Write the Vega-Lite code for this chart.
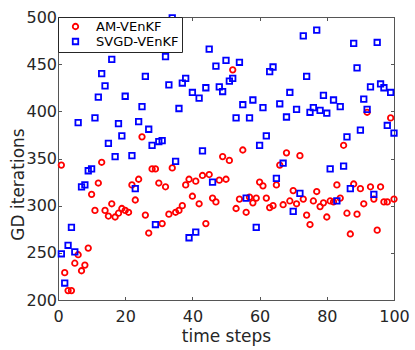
{
  "$schema": "https://vega.github.io/schema/vega-lite/v6.json",
  "autosize": {"type": "none"},
  "padding": {"left": 58, "top": 17, "right": 21, "bottom": 50},
  "width": 336,
  "height": 283,
  "background": "white",
  "config": {
    "view": {"stroke": "#555555", "strokeWidth": 1},
    "font": "DejaVu Sans",
    "axis": {"grid": false, "domainColor": "#555555", "tickColor": "#555555", "labelColor": "#262626", "titleColor": "#262626", "labelFont": "DejaVu Sans", "titleFont": "DejaVu Sans", "labelFontSize": 16, "titleFontSize": 17, "titleFontWeight": "normal", "tickSize": -3.5, "domainWidth": 1, "labelFlush": false}
  },
  "datasets": {
    "pts": [
      {"t":1,"v":343,"s":"AM-VEnKF"},{"t":2,"v":229,"s":"AM-VEnKF"},{"t":3,"v":210,"s":"AM-VEnKF"},{"t":4,"v":210,"s":"AM-VEnKF"},{"t":5,"v":239,"s":"AM-VEnKF"},{"t":6,"v":248,"s":"AM-VEnKF"},{"t":7,"v":231,"s":"AM-VEnKF"},{"t":8,"v":237,"s":"AM-VEnKF"},{"t":9,"v":255,"s":"AM-VEnKF"},{"t":10,"v":312,"s":"AM-VEnKF"},
      {"t":11,"v":295,"s":"AM-VEnKF"},{"t":12,"v":324,"s":"AM-VEnKF"},{"t":13,"v":346,"s":"AM-VEnKF"},{"t":14,"v":295,"s":"AM-VEnKF"},{"t":15,"v":289,"s":"AM-VEnKF"},{"t":16,"v":302,"s":"AM-VEnKF"},{"t":17,"v":288,"s":"AM-VEnKF"},{"t":18,"v":292,"s":"AM-VEnKF"},{"t":19,"v":297,"s":"AM-VEnKF"},{"t":20,"v":295,"s":"AM-VEnKF"},
      {"t":21,"v":293,"s":"AM-VEnKF"},{"t":22,"v":322,"s":"AM-VEnKF"},{"t":23,"v":306,"s":"AM-VEnKF"},{"t":24,"v":328,"s":"AM-VEnKF"},{"t":25,"v":373,"s":"AM-VEnKF"},{"t":26,"v":290,"s":"AM-VEnKF"},{"t":27,"v":271,"s":"AM-VEnKF"},{"t":28,"v":339,"s":"AM-VEnKF"},{"t":29,"v":339,"s":"AM-VEnKF"},{"t":30,"v":324,"s":"AM-VEnKF"},
      {"t":31,"v":281,"s":"AM-VEnKF"},{"t":32,"v":320,"s":"AM-VEnKF"},{"t":33,"v":291,"s":"AM-VEnKF"},{"t":34,"v":340,"s":"AM-VEnKF"},{"t":35,"v":293,"s":"AM-VEnKF"},{"t":36,"v":295,"s":"AM-VEnKF"},{"t":37,"v":300,"s":"AM-VEnKF"},{"t":38,"v":322,"s":"AM-VEnKF"},{"t":39,"v":328,"s":"AM-VEnKF"},{"t":40,"v":310,"s":"AM-VEnKF"},
      {"t":41,"v":326,"s":"AM-VEnKF"},{"t":42,"v":302,"s":"AM-VEnKF"},{"t":43,"v":332,"s":"AM-VEnKF"},{"t":44,"v":281,"s":"AM-VEnKF"},{"t":45,"v":333,"s":"AM-VEnKF"},{"t":46,"v":308,"s":"AM-VEnKF"},{"t":47,"v":304,"s":"AM-VEnKF"},{"t":48,"v":327,"s":"AM-VEnKF"},{"t":49,"v":352,"s":"AM-VEnKF"},{"t":50,"v":328,"s":"AM-VEnKF"},
      {"t":51,"v":348,"s":"AM-VEnKF"},{"t":52,"v":444,"s":"AM-VEnKF"},{"t":53,"v":297,"s":"AM-VEnKF"},{"t":54,"v":307,"s":"AM-VEnKF"},{"t":55,"v":359,"s":"AM-VEnKF"},{"t":56,"v":293,"s":"AM-VEnKF"},{"t":57,"v":309,"s":"AM-VEnKF"},{"t":58,"v":303,"s":"AM-VEnKF"},{"t":59,"v":308,"s":"AM-VEnKF"},{"t":60,"v":325,"s":"AM-VEnKF"},
      {"t":61,"v":321,"s":"AM-VEnKF"},{"t":62,"v":308,"s":"AM-VEnKF"},{"t":63,"v":298,"s":"AM-VEnKF"},{"t":64,"v":300,"s":"AM-VEnKF"},{"t":65,"v":322,"s":"AM-VEnKF"},{"t":66,"v":343,"s":"AM-VEnKF"},{"t":67,"v":301,"s":"AM-VEnKF"},{"t":68,"v":356,"s":"AM-VEnKF"},{"t":69,"v":305,"s":"AM-VEnKF"},{"t":70,"v":316,"s":"AM-VEnKF"},
      {"t":71,"v":302,"s":"AM-VEnKF"},{"t":72,"v":353,"s":"AM-VEnKF"},{"t":73,"v":307,"s":"AM-VEnKF"},{"t":74,"v":290,"s":"AM-VEnKF"},{"t":75,"v":280,"s":"AM-VEnKF"},{"t":76,"v":305,"s":"AM-VEnKF"},{"t":77,"v":315,"s":"AM-VEnKF"},{"t":78,"v":299,"s":"AM-VEnKF"},{"t":79,"v":303,"s":"AM-VEnKF"},{"t":80,"v":288,"s":"AM-VEnKF"},
      {"t":81,"v":305,"s":"AM-VEnKF"},{"t":82,"v":304,"s":"AM-VEnKF"},{"t":83,"v":322,"s":"AM-VEnKF"},{"t":84,"v":308,"s":"AM-VEnKF"},{"t":85,"v":364,"s":"AM-VEnKF"},{"t":86,"v":292,"s":"AM-VEnKF"},{"t":87,"v":270,"s":"AM-VEnKF"},{"t":88,"v":323,"s":"AM-VEnKF"},{"t":89,"v":291,"s":"AM-VEnKF"},{"t":90,"v":318,"s":"AM-VEnKF"},
      {"t":91,"v":302,"s":"AM-VEnKF"},{"t":92,"v":399,"s":"AM-VEnKF"},{"t":93,"v":320,"s":"AM-VEnKF"},{"t":94,"v":307,"s":"AM-VEnKF"},{"t":95,"v":274,"s":"AM-VEnKF"},{"t":96,"v":320,"s":"AM-VEnKF"},{"t":97,"v":304,"s":"AM-VEnKF"},{"t":98,"v":304,"s":"AM-VEnKF"},{"t":99,"v":393,"s":"AM-VEnKF"},{"t":100,"v":307,"s":"AM-VEnKF"},
      {"t":1,"v":249,"s":"SVGD-VEnKF"},{"t":2,"v":218,"s":"SVGD-VEnKF"},{"t":3,"v":258,"s":"SVGD-VEnKF"},{"t":4,"v":277,"s":"SVGD-VEnKF"},{"t":5,"v":251,"s":"SVGD-VEnKF"},{"t":6,"v":388,"s":"SVGD-VEnKF"},{"t":7,"v":320,"s":"SVGD-VEnKF"},{"t":8,"v":322,"s":"SVGD-VEnKF"},{"t":9,"v":337,"s":"SVGD-VEnKF"},{"t":10,"v":339,"s":"SVGD-VEnKF"},
      {"t":11,"v":393,"s":"SVGD-VEnKF"},{"t":12,"v":415,"s":"SVGD-VEnKF"},{"t":13,"v":440,"s":"SVGD-VEnKF"},{"t":14,"v":427,"s":"SVGD-VEnKF"},{"t":15,"v":366,"s":"SVGD-VEnKF"},{"t":16,"v":455,"s":"SVGD-VEnKF"},{"t":17,"v":352,"s":"SVGD-VEnKF"},{"t":18,"v":387,"s":"SVGD-VEnKF"},{"t":19,"v":374,"s":"SVGD-VEnKF"},{"t":20,"v":416,"s":"SVGD-VEnKF"},
      {"t":21,"v":466,"s":"SVGD-VEnKF"},{"t":22,"v":353,"s":"SVGD-VEnKF"},{"t":23,"v":318,"s":"SVGD-VEnKF"},{"t":24,"v":389,"s":"SVGD-VEnKF"},{"t":25,"v":405,"s":"SVGD-VEnKF"},{"t":26,"v":437,"s":"SVGD-VEnKF"},{"t":27,"v":381,"s":"SVGD-VEnKF"},{"t":28,"v":364,"s":"SVGD-VEnKF"},{"t":29,"v":280,"s":"SVGD-VEnKF"},{"t":30,"v":368,"s":"SVGD-VEnKF"},
      {"t":31,"v":369,"s":"SVGD-VEnKF"},{"t":32,"v":458,"s":"SVGD-VEnKF"},{"t":33,"v":428,"s":"SVGD-VEnKF"},{"t":34,"v":499,"s":"SVGD-VEnKF"},{"t":35,"v":347,"s":"SVGD-VEnKF"},{"t":36,"v":403,"s":"SVGD-VEnKF"},{"t":37,"v":430,"s":"SVGD-VEnKF"},{"t":38,"v":435,"s":"SVGD-VEnKF"},{"t":39,"v":266,"s":"SVGD-VEnKF"},{"t":40,"v":420,"s":"SVGD-VEnKF"},
      {"t":41,"v":272,"s":"SVGD-VEnKF"},{"t":42,"v":414,"s":"SVGD-VEnKF"},{"t":43,"v":358,"s":"SVGD-VEnKF"},{"t":44,"v":425,"s":"SVGD-VEnKF"},{"t":45,"v":466,"s":"SVGD-VEnKF"},{"t":46,"v":325,"s":"SVGD-VEnKF"},{"t":47,"v":448,"s":"SVGD-VEnKF"},{"t":48,"v":426,"s":"SVGD-VEnKF"},{"t":49,"v":421,"s":"SVGD-VEnKF"},{"t":50,"v":454,"s":"SVGD-VEnKF"},
      {"t":51,"v":432,"s":"SVGD-VEnKF"},{"t":52,"v":435,"s":"SVGD-VEnKF"},{"t":53,"v":393,"s":"SVGD-VEnKF"},{"t":54,"v":452,"s":"SVGD-VEnKF"},{"t":55,"v":407,"s":"SVGD-VEnKF"},{"t":56,"v":308,"s":"SVGD-VEnKF"},{"t":57,"v":393,"s":"SVGD-VEnKF"},{"t":58,"v":412,"s":"SVGD-VEnKF"},{"t":59,"v":277,"s":"SVGD-VEnKF"},{"t":60,"v":364,"s":"SVGD-VEnKF"},
      {"t":61,"v":404,"s":"SVGD-VEnKF"},{"t":62,"v":374,"s":"SVGD-VEnKF"},{"t":63,"v":442,"s":"SVGD-VEnKF"},{"t":64,"v":447,"s":"SVGD-VEnKF"},{"t":65,"v":329,"s":"SVGD-VEnKF"},{"t":66,"v":408,"s":"SVGD-VEnKF"},{"t":67,"v":345,"s":"SVGD-VEnKF"},{"t":68,"v":394,"s":"SVGD-VEnKF"},{"t":69,"v":420,"s":"SVGD-VEnKF"},{"t":70,"v":294,"s":"SVGD-VEnKF"},
      {"t":71,"v":402,"s":"SVGD-VEnKF"},{"t":72,"v":313,"s":"SVGD-VEnKF"},{"t":73,"v":480,"s":"SVGD-VEnKF"},{"t":74,"v":437,"s":"SVGD-VEnKF"},{"t":75,"v":399,"s":"SVGD-VEnKF"},{"t":76,"v":404,"s":"SVGD-VEnKF"},{"t":77,"v":486,"s":"SVGD-VEnKF"},{"t":78,"v":401,"s":"SVGD-VEnKF"},{"t":79,"v":417,"s":"SVGD-VEnKF"},{"t":80,"v":398,"s":"SVGD-VEnKF"},
      {"t":81,"v":339,"s":"SVGD-VEnKF"},{"t":82,"v":412,"s":"SVGD-VEnKF"},{"t":83,"v":305,"s":"SVGD-VEnKF"},{"t":84,"v":405,"s":"SVGD-VEnKF"},{"t":85,"v":342,"s":"SVGD-VEnKF"},{"t":86,"v":373,"s":"SVGD-VEnKF"},{"t":87,"v":318,"s":"SVGD-VEnKF"},{"t":88,"v":472,"s":"SVGD-VEnKF"},{"t":89,"v":446,"s":"SVGD-VEnKF"},{"t":90,"v":380,"s":"SVGD-VEnKF"},
      {"t":91,"v":413,"s":"SVGD-VEnKF"},{"t":92,"v":402,"s":"SVGD-VEnKF"},{"t":93,"v":426,"s":"SVGD-VEnKF"},{"t":94,"v":312,"s":"SVGD-VEnKF"},{"t":95,"v":473,"s":"SVGD-VEnKF"},{"t":96,"v":429,"s":"SVGD-VEnKF"},{"t":97,"v":425,"s":"SVGD-VEnKF"},{"t":98,"v":385,"s":"SVGD-VEnKF"},{"t":99,"v":420,"s":"SVGD-VEnKF"},{"t":100,"v":377,"s":"SVGD-VEnKF"}
    ]
  },
  "data": {"name": "pts"},
  "layer": [
    {
      "mark": {"type": "point", "filled": false, "strokeWidth": 1.8, "opacity": 1},
      "encoding": {
        "x": {"field": "t", "type": "quantitative", "scale": {"domain": [0, 100], "nice": false, "zero": false},
          "axis": {"orient": "bottom", "values": [0, 20, 40, 60, 80, 100], "title": "time steps", "labelPadding": 12, "titleBaseline": "alphabetic", "titleY": 41}},
        "y": {"field": "v", "type": "quantitative", "scale": {"domain": [200, 500], "nice": false, "zero": false},
          "axis": {"orient": "left", "values": [200, 250, 300, 350, 400, 450, 500], "title": "GD iterations", "labelPadding": 5, "titleAngle": 270, "titleBaseline": "alphabetic", "titleAlign": "center", "titleX": -35, "titleY": 167}},
        "color": {"field": "s", "type": "nominal", "scale": {"domain": ["AM-VEnKF", "SVGD-VEnKF"], "range": ["#ff0000", "#0000ff"]},
          "legend": {"title": null, "orient": "top-left", "offset": 0, "labelFontSize": 13, "labelFont": "DejaVu Sans", "labelColor": "#000000", "padding": 3, "rowPadding": 1, "symbolOffset": 8, "labelOffset": 14, "strokeColor": "#262626", "fillColor": "white", "symbolStrokeWidth": 1.8, "symbolSize": 30, "cornerRadius": 0}},
        "shape": {"field": "s", "type": "nominal", "scale": {"domain": ["AM-VEnKF", "SVGD-VEnKF"], "range": ["circle", "square"]}},
        "size": {"value": 30}
      }
    },
    {
      "mark": {"type": "point", "opacity": 0},
      "encoding": {
        "x": {"field": "t", "type": "quantitative", "axis": {"orient": "top", "values": [0, 20, 40, 60, 80, 100], "labels": false, "title": null}},
        "y": {"field": "v", "type": "quantitative", "axis": {"orient": "right", "values": [200, 250, 300, 350, 400, 450, 500], "labels": false, "title": null}}
      }
    }
  ],
  "resolve": {"axis": {"x": "independent", "y": "independent"}}
}
